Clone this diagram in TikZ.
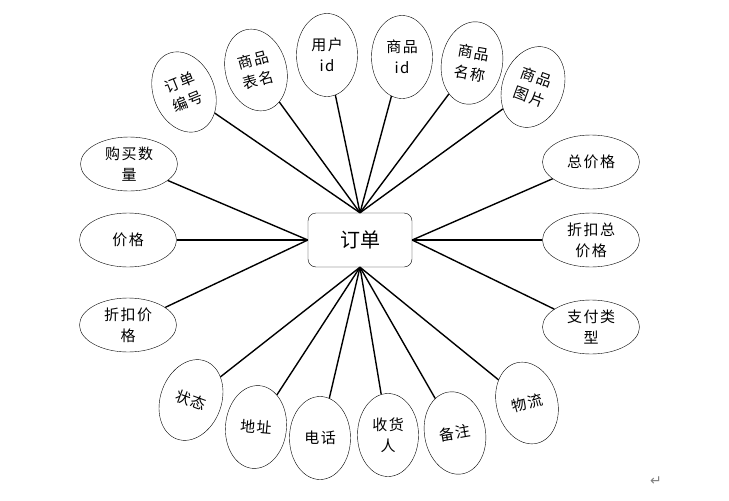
\documentclass[tikz,border=0pt]{standalone}
\usepackage{fontspec}
\setmainfont{Noto Sans CJK SC}
\newfontfamily\attrfont[LetterSpace=10]{Noto Sans CJK SC}
\newfontfamily\symfont{DejaVu Sans}
\usepackage{tikz}
\usetikzlibrary{shapes.geometric}

\begin{document}
\begin{tikzpicture}[x=1pt, y=-1pt,
  attr/.style={draw, ellipse, thin, inner sep=0pt, align=center,
    font=\attrfont\fontsize{15}{21}\selectfont},
  tall/.style={attr, minimum width=61pt, minimum height=83pt},
  wide/.style={attr, minimum width=97pt, minimum height=54pt},
  link/.style={line width=1.4pt}]
\useasboundingbox (0,0) rectangle (729,501);
% entity
\node[draw, thin, rounded corners=8pt, minimum width=104pt, minimum height=54pt,
  font=\fontsize{20}{24}\selectfont] (order) at (360,240) {订单};
% attributes above
\node[tall, rotate=22] (orderno) at (184,92) {订单\\编号};
\node[tall, rotate=15] (tblname) at (256,70) {商品\\表名};
\node[tall] (userid) at (327,55) {用户\\id};
\node[tall] (goodsid) at (402,57) {商品\\id};
\node[tall, rotate=-10] (goodsname) at (472,63) {商品\\名称};
\node[tall, rotate=-20] (goodspic) at (533,87) {商品\\图片};
% attributes left
\node[wide] (amount) at (129,164) {购买数\\量};
\node[wide] (price) at (128,240) {价格};
\node[wide] (discprice) at (128,325) {折扣价\\格};
% attributes right
\node[wide] (total) at (591,162) {总价格};
\node[wide] (disctotal) at (591,240) {折扣总\\价格};
\node[wide] (paytype) at (591,327) {支付类\\型};
% attributes below
\node[tall, rotate=-20] (state) at (191,400) {状态};
\node[tall, rotate=-5] (address) at (256,427) {地址};
\node[tall] (phone) at (320,438) {电话};
\node[tall] (receiver) at (388,435) {收货\\人};
\node[tall, rotate=10] (remark) at (455,433) {备注};
\node[tall, rotate=15] (logistics) at (527,403) {物流};
% links
\foreach \a in {orderno,tblname,userid,goodsid,goodsname,goodspic}
  \draw[link] (order.north) -- (\a);
\foreach \a in {amount,price,discprice}
  \draw[link] (order.west) -- (\a);
\foreach \a in {total,disctotal,paytype}
  \draw[link] (order.east) -- (\a);
\foreach \a in {state,address,phone,receiver,remark,logistics}
  \draw[link] (order.south) -- (\a);
% paragraph mark
\node[gray, font=\symfont\fontsize{14}{14}\selectfont] (mark) at (656,481) {↵};
\end{tikzpicture}
\end{document}
